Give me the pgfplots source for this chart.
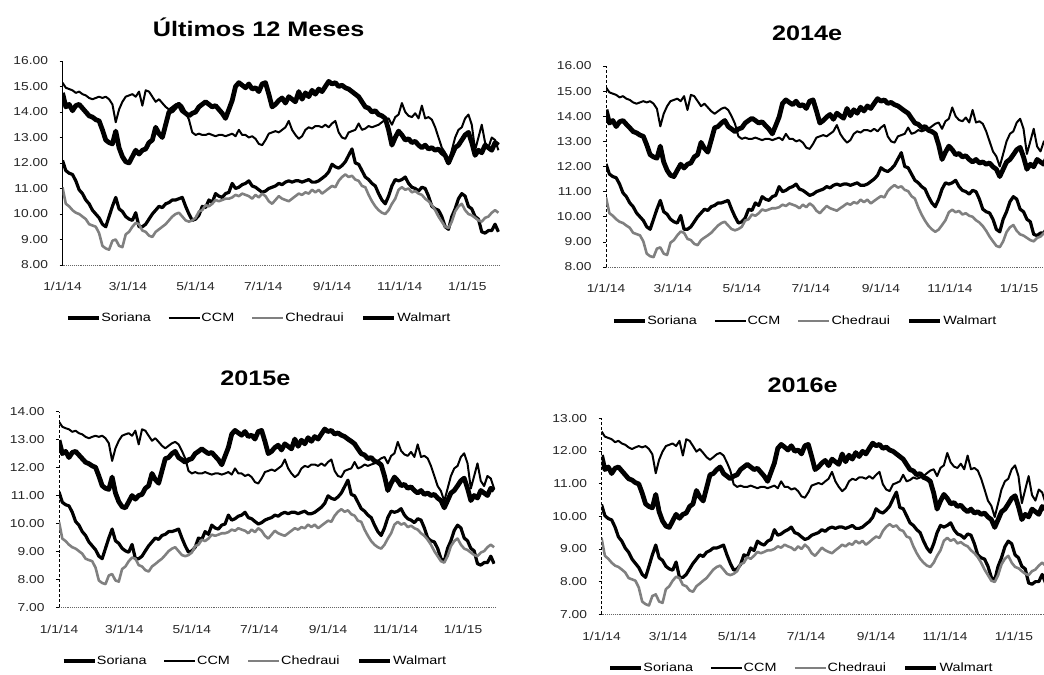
\documentclass[border=0pt]{standalone}
\usepackage{pgfplots}
\pgfplotsset{compat=1.18}
\usepackage{pgfplotstable}
\usepackage{fontspec}
\setmainfont{Liberation Sans}[FakeStretch=1.2]
\pgfkeys{/pgf/number format/assume math mode=true}

% Ultimos 12 meses
\pgfplotstableread{
d S C H W
0 12.10 15.15 11.05 14.75
3 11.70 14.95 10.40 14.20
6 11.60 14.90 10.30 14.30
9 11.55 14.85 10.15 14.05
12 11.30 14.75 10.05 14.25
15 10.95 14.80 10.00 14.30
18 10.80 14.70 9.90 14.15
21 10.55 14.65 9.80 14.00
24 10.40 14.55 9.60 13.85
27 10.15 14.50 9.55 13.80
30 10.00 14.55 9.50 13.70
33 9.85 14.60 9.25 13.65
36 9.60 14.55 8.75 13.30
39 9.50 14.60 8.65 12.90
42 9.90 14.50 8.60 12.80
45 10.30 14.30 8.95 12.75
48 10.65 13.60 9.00 13.25
51 10.20 14.10 8.75 12.60
54 10.10 14.40 8.70 12.25
57 9.90 14.60 9.20 12.05
60 9.80 14.65 9.30 12.00
63 9.75 14.70 9.50 12.25
66 10.05 14.60 9.65 12.50
69 9.50 14.80 9.60 12.35
72 9.50 14.25 9.35 12.50
75 9.60 14.85 9.30 12.55
78 9.80 14.80 9.15 12.80
81 10.00 14.60 9.10 12.90
84 10.15 14.40 9.30 13.40
87 10.30 14.50 9.40 13.15
90 10.25 14.35 9.50 13.00
93 10.40 14.20 9.60 13.50
96 10.45 14.10 9.75 14.00
99 10.55 14.20 9.90 14.05
102 10.55 14.30 10.00 14.20
105 10.60 14.35 10.05 14.30
108 10.65 14.25 9.90 14.05
111 10.30 14.00 9.75 13.95
114 10.00 13.70 9.70 13.85
117 9.75 13.20 9.75 13.95
120 9.80 13.10 9.85 14.00
123 9.95 13.15 10.10 14.20
126 10.30 13.10 10.15 14.30
129 10.25 13.10 10.35 14.40
132 10.55 13.15 10.30 14.30
135 10.45 13.10 10.40 14.20
138 10.80 13.05 10.55 14.25
141 10.70 13.10 10.50 14.10
144 10.65 13.10 10.55 13.95
147 10.80 13.05 10.60 13.75
150 10.85 13.10 10.60 14.10
153 11.20 13.15 10.65 14.45
156 11.00 13.05 10.75 15.00
159 11.05 13.30 10.70 15.15
162 11.15 13.10 10.80 15.05
165 11.20 13.10 10.75 14.95
168 11.30 13.00 10.70 15.10
171 11.10 13.05 10.60 14.90
174 11.05 12.95 10.75 14.95
177 10.95 12.75 10.65 14.80
180 10.85 12.70 10.80 15.10
183 10.90 12.90 10.70 15.15
186 11.00 13.15 10.50 14.70
189 11.05 13.20 10.40 14.20
192 11.10 13.25 10.55 14.30
195 11.20 13.20 10.70 14.45
198 11.15 13.30 10.60 14.55
201 11.25 13.40 10.55 14.35
204 11.30 13.65 10.50 14.60
207 11.25 13.30 10.60 14.50
210 11.30 13.10 10.70 14.40
213 11.30 12.95 10.80 14.80
216 11.25 13.05 10.75 14.50
219 11.30 13.30 10.85 14.75
222 11.35 13.40 10.80 14.60
225 11.25 13.35 10.95 14.85
228 11.25 13.45 10.85 14.70
231 11.30 13.45 10.95 14.90
234 11.40 13.40 10.80 14.80
237 11.50 13.50 10.90 15.00
240 11.65 13.40 11.00 15.20
243 11.95 13.55 11.10 15.10
246 11.85 13.65 11.05 15.15
249 11.80 13.20 11.30 15.00
252 11.90 13.00 11.45 15.05
255 12.05 12.95 11.55 14.95
258 12.30 13.20 11.45 14.90
261 12.55 13.25 11.50 14.80
264 12.00 13.30 11.35 14.70
267 11.95 13.55 11.30 14.60
270 11.70 13.30 11.10 14.40
273 11.45 13.35 11.05 14.20
276 11.35 13.45 10.75 14.15
279 11.20 13.40 10.50 14.00
282 11.10 13.45 10.30 14.05
285 10.80 13.50 10.15 13.90
288 10.55 13.60 10.05 13.85
291 10.40 13.70 10.00 13.75
294 10.70 13.75 10.15 13.30
297 11.10 13.50 10.40 12.70
300 11.35 13.80 10.60 13.00
303 11.30 13.90 10.95 13.25
306 11.35 14.35 11.05 13.10
309 11.45 14.00 10.95 12.90
312 11.20 13.85 11.00 12.95
315 11.05 13.80 10.85 12.80
318 11.00 13.95 10.90 12.85
321 10.90 13.75 10.80 12.70
324 11.05 14.25 10.75 12.60
327 11.00 13.75 10.60 12.70
330 10.70 13.80 10.50 12.55
333 10.30 13.70 10.35 12.60
336 10.20 13.40 10.15 12.50
339 10.15 13.00 9.90 12.55
342 9.90 12.60 9.70 12.40
345 9.50 12.40 9.50 12.30
348 9.40 12.00 9.45 12.00
351 9.90 12.50 9.70 12.30
354 10.20 13.00 10.10 12.60
357 10.60 13.30 10.30 12.70
360 10.80 13.40 10.40 12.90
363 10.70 13.75 10.15 13.10
366 10.30 13.90 10.00 13.20
369 10.20 13.50 9.95 12.80
372 9.90 12.50 9.85 12.30
375 9.80 13.00 9.75 12.50
378 9.30 13.50 9.70 12.40
381 9.25 12.80 9.85 12.70
384 9.35 12.60 9.90 12.60
387 9.35 13.00 10.05 12.50
390 9.60 12.90 10.15 12.80
393 9.30 12.50 10.05 12.70
}\tA

% 2014e
\pgfplotstableread{
d S C H W
0 12.10 15.15 10.77 14.26
3 11.70 14.95 10.14 13.73
6 11.60 14.90 10.04 13.83
9 11.55 14.85 9.90 13.59
12 11.30 14.75 9.80 13.78
15 10.95 14.80 9.75 13.83
18 10.80 14.70 9.65 13.68
21 10.55 14.65 9.56 13.54
24 10.40 14.55 9.36 13.39
27 10.15 14.50 9.31 13.34
30 10.00 14.55 9.26 13.25
33 9.85 14.60 9.02 13.20
36 9.60 14.55 8.53 12.86
39 9.50 14.60 8.43 12.47
42 9.90 14.50 8.39 12.38
45 10.30 14.30 8.73 12.33
48 10.65 13.60 8.78 12.81
51 10.20 14.10 8.53 12.18
54 10.10 14.40 8.48 11.85
57 9.90 14.60 8.97 11.65
60 9.80 14.65 9.07 11.60
63 9.75 14.70 9.26 11.85
66 10.05 14.60 9.41 12.09
69 9.50 14.80 9.36 11.94
72 9.50 14.25 9.12 12.09
75 9.60 14.85 9.07 12.14
78 9.80 14.80 8.92 12.38
81 10.00 14.60 8.87 12.47
84 10.15 14.40 9.07 12.96
87 10.30 14.50 9.17 12.72
90 10.25 14.35 9.26 12.57
93 10.40 14.20 9.36 13.05
96 10.45 14.10 9.51 13.54
99 10.55 14.20 9.65 13.59
102 10.55 14.30 9.75 13.73
105 10.60 14.35 9.80 13.83
108 10.65 14.25 9.65 13.59
111 10.30 14.00 9.51 13.49
114 10.00 13.70 9.46 13.39
117 9.75 13.20 9.51 13.49
120 9.80 13.10 9.60 13.54
123 9.95 13.15 9.85 13.73
126 10.30 13.10 9.90 13.83
129 10.25 13.10 10.09 13.92
132 10.55 13.15 10.04 13.83
135 10.45 13.10 10.14 13.73
138 10.80 13.05 10.29 13.78
141 10.70 13.10 10.24 13.63
144 10.65 13.10 10.29 13.49
147 10.80 13.05 10.34 13.30
150 10.85 13.10 10.34 13.63
153 11.20 13.15 10.38 13.97
156 11.00 13.05 10.48 14.51
159 11.05 13.30 10.43 14.65
162 11.15 13.10 10.53 14.55
165 11.20 13.10 10.48 14.46
168 11.30 13.00 10.43 14.60
171 11.10 13.05 10.34 14.41
174 11.05 12.95 10.48 14.46
177 10.95 12.75 10.38 14.31
180 10.85 12.70 10.53 14.60
183 10.90 12.90 10.43 14.65
186 11.00 13.15 10.24 14.21
189 11.05 13.20 10.14 13.73
192 11.10 13.25 10.29 13.83
195 11.20 13.20 10.43 13.97
198 11.15 13.30 10.34 14.07
201 11.25 13.40 10.29 13.88
204 11.30 13.65 10.24 14.12
207 11.25 13.30 10.34 14.02
210 11.30 13.10 10.43 13.92
213 11.30 12.95 10.53 14.31
216 11.25 13.05 10.48 14.02
219 11.30 13.30 10.58 14.26
222 11.35 13.40 10.53 14.12
225 11.25 13.35 10.68 14.36
228 11.25 13.45 10.58 14.21
231 11.30 13.45 10.68 14.41
234 11.40 13.40 10.53 14.31
237 11.50 13.50 10.63 14.51
240 11.65 13.40 10.73 14.70
243 11.95 13.55 10.82 14.60
246 11.85 13.65 10.77 14.65
249 11.80 13.20 11.02 14.51
252 11.90 13.00 11.16 14.55
255 12.05 12.95 11.26 14.46
258 12.30 13.20 11.16 14.41
261 12.55 13.25 11.21 14.31
264 12.00 13.30 11.07 14.21
267 11.95 13.55 11.02 14.12
270 11.70 13.30 10.82 13.92
273 11.45 13.35 10.72 13.73
276 11.35 13.45 10.37 13.68
279 11.20 13.40 10.08 13.54
282 11.10 13.45 9.84 13.59
285 10.80 13.50 9.64 13.44
288 10.55 13.60 9.50 13.39
291 10.40 13.70 9.40 13.30
294 10.70 13.75 9.49 12.86
297 11.10 13.50 9.67 12.28
300 11.35 13.80 9.86 12.57
303 11.30 13.90 10.18 12.81
306 11.35 14.35 10.28 12.67
309 11.45 14.00 10.18 12.47
312 11.20 13.85 10.23 12.52
315 11.05 13.80 10.09 12.38
318 11.00 13.95 10.14 12.43
321 10.90 13.75 10.04 12.28
324 11.05 14.25 10.00 12.18
327 11.00 13.75 9.86 12.28
330 10.70 13.80 9.77 12.14
333 10.30 13.70 9.63 12.18
336 10.20 13.40 9.44 12.09
339 10.15 13.00 9.21 12.14
342 9.90 12.60 9.02 11.99
345 9.50 12.40 8.84 11.89
348 9.40 12.00 8.79 11.60
351 9.90 12.50 9.02 11.89
354 10.20 13.00 9.39 12.18
357 10.60 13.30 9.58 12.28
360 10.80 13.40 9.67 12.47
363 10.70 13.75 9.44 12.67
366 10.30 13.90 9.30 12.76
369 10.20 13.50 9.25 12.38
372 9.90 12.50 9.16 11.89
375 9.80 13.00 9.07 12.09
378 9.30 13.50 9.02 11.99
381 9.25 12.80 9.16 12.28
384 9.35 12.60 9.21 12.18
387 9.35 13.00 9.35 12.09
390 9.60 12.90 9.44 12.38
393 9.30 12.50 9.35 12.28
}\tB

% 2015e
\pgfplotstableread{
d S C H W
0 11.13 13.64 10.06 12.98
3 10.76 13.46 9.46 12.50
6 10.67 13.41 9.37 12.58
9 10.63 13.37 9.24 12.36
12 10.40 13.28 9.15 12.54
15 10.07 13.32 9.10 12.58
18 9.94 13.23 9.01 12.45
21 9.71 13.19 8.92 12.32
24 9.57 13.10 8.74 12.19
27 9.34 13.05 8.69 12.14
30 9.20 13.10 8.65 12.06
33 9.06 13.14 8.42 12.01
36 8.83 13.10 7.96 11.70
39 8.74 13.14 7.87 11.35
42 9.11 13.05 7.83 11.26
45 9.48 12.87 8.14 11.22
48 9.80 12.24 8.19 11.66
51 9.38 12.69 7.96 11.09
54 9.29 12.96 7.92 10.78
57 9.11 13.14 8.37 10.60
60 9.02 13.19 8.46 10.56
63 8.97 13.23 8.65 10.78
66 9.25 13.14 8.78 11.00
69 8.74 13.32 8.74 10.87
72 8.74 12.83 8.51 11.00
75 8.83 13.37 8.46 11.04
78 9.02 13.32 8.33 11.26
81 9.20 13.14 8.28 11.35
84 9.34 12.96 8.46 11.79
87 9.48 13.05 8.55 11.57
90 9.43 12.92 8.65 11.44
93 9.57 12.78 8.74 11.88
96 9.61 12.69 8.87 12.32
99 9.71 12.78 9.01 12.36
102 9.71 12.87 9.10 12.50
105 9.75 12.92 9.15 12.58
108 9.80 12.83 9.01 12.36
111 9.48 12.60 8.87 12.28
114 9.20 12.33 8.83 12.19
117 8.97 11.88 8.87 12.28
120 9.02 11.79 8.96 12.32
123 9.15 11.84 9.19 12.50
126 9.48 11.79 9.24 12.58
129 9.43 11.79 9.42 12.67
132 9.71 11.84 9.37 12.58
135 9.61 11.79 9.46 12.50
138 9.94 11.75 9.60 12.54
141 9.84 11.79 9.56 12.41
144 9.80 11.79 9.60 12.28
147 9.94 11.75 9.65 12.10
150 9.98 11.79 9.65 12.41
153 10.30 11.84 9.69 12.72
156 10.12 11.75 9.78 13.20
159 10.17 11.97 9.74 13.33
162 10.26 11.79 9.83 13.24
165 10.30 11.79 9.78 13.16
168 10.40 11.70 9.74 13.29
171 10.21 11.75 9.65 13.11
174 10.17 11.66 9.78 13.16
177 10.07 11.48 9.69 13.02
180 9.98 11.43 9.83 13.29
183 10.03 11.61 9.74 13.33
186 10.12 11.84 9.56 12.94
189 10.17 11.88 9.46 12.50
192 10.21 11.93 9.60 12.58
195 10.30 11.88 9.74 12.72
198 10.26 11.97 9.65 12.80
201 10.35 12.06 9.60 12.63
204 10.40 12.29 9.56 12.85
207 10.35 11.97 9.65 12.76
210 10.40 11.79 9.74 12.67
213 10.40 11.66 9.83 13.02
216 10.35 11.75 9.78 12.76
219 10.40 11.97 9.87 12.98
222 10.44 12.06 9.83 12.85
225 10.35 12.02 9.96 13.07
228 10.35 12.11 9.87 12.94
231 10.40 12.11 9.96 13.11
234 10.49 12.06 9.83 13.02
237 10.58 12.15 9.92 13.20
240 10.72 12.06 10.01 13.38
243 10.99 12.20 10.10 13.29
246 10.90 12.29 10.06 13.33
249 10.86 11.88 10.28 13.20
252 10.95 11.70 10.42 13.24
255 11.09 11.66 10.51 13.16
258 11.32 11.88 10.42 13.11
261 11.55 11.93 10.47 13.02
264 11.04 11.97 10.33 12.94
267 10.99 12.20 10.28 12.85
270 10.76 11.97 10.10 12.67
273 10.53 12.02 10.06 12.50
276 10.44 12.11 9.78 12.45
279 10.30 12.06 9.56 12.32
282 10.21 12.11 9.37 12.36
285 9.94 12.15 9.24 12.23
288 9.71 12.24 9.15 12.19
291 9.57 12.33 9.10 12.10
294 9.84 12.38 9.24 11.70
297 10.21 12.15 9.46 11.18
300 10.44 12.42 9.65 11.44
303 10.40 12.51 9.96 11.66
306 10.44 12.92 10.06 11.53
309 10.53 12.60 9.96 11.35
312 10.30 12.47 10.01 11.40
315 10.17 12.42 9.87 11.26
318 10.12 12.56 9.92 11.31
321 10.03 12.38 9.83 11.18
324 10.17 12.83 9.78 11.09
327 10.12 12.38 9.65 11.18
330 9.84 12.42 9.56 11.04
333 9.48 12.33 9.42 11.09
336 9.38 12.06 9.24 11.00
339 9.34 11.70 9.01 11.04
342 9.11 11.34 8.83 10.91
345 8.74 11.16 8.65 10.82
348 8.65 10.80 8.60 10.56
351 9.11 11.25 8.83 10.82
354 9.38 11.70 9.19 11.09
357 9.75 11.97 9.37 11.18
360 9.94 12.06 9.46 11.35
363 9.84 12.38 9.24 11.53
366 9.48 12.51 9.10 11.62
369 9.38 12.15 9.05 11.26
372 9.11 11.25 8.96 10.82
375 9.02 11.70 8.87 11.00
378 8.56 12.15 8.83 10.91
381 8.51 11.52 8.96 11.18
384 8.60 11.34 9.01 11.09
387 8.60 11.70 9.15 11.00
390 8.83 11.61 9.24 11.26
393 8.56 11.25 9.15 11.18
}\tC

% 2016e
\pgfplotstableread{
d S C H W
0 10.36 12.60 9.34 11.87
3 10.02 12.44 8.79 11.43
6 9.93 12.40 8.70 11.51
9 9.89 12.36 8.58 11.31
12 9.67 12.27 8.49 11.47
15 9.37 12.31 8.45 11.51
18 9.24 12.23 8.37 11.39
21 9.03 12.19 8.28 11.27
24 8.90 12.11 8.11 11.15
27 8.69 12.06 8.07 11.11
30 8.56 12.11 8.03 11.03
33 8.43 12.15 7.82 10.99
36 8.22 12.11 7.39 10.71
39 8.13 12.15 7.31 10.38
42 8.47 12.06 7.27 10.30
45 8.82 11.90 7.56 10.26
48 9.12 11.32 7.61 10.67
51 8.73 11.73 7.39 10.14
54 8.65 11.98 7.35 9.86
57 8.47 12.15 7.77 9.70
60 8.39 12.19 7.86 9.66
63 8.35 12.23 8.03 9.86
66 8.60 12.15 8.15 10.06
69 8.13 12.31 8.11 9.94
72 8.13 11.86 7.90 10.06
75 8.22 12.36 7.86 10.10
78 8.39 12.31 7.73 10.30
81 8.56 12.15 7.69 10.38
84 8.69 11.98 7.86 10.79
87 8.82 12.06 7.94 10.59
90 8.77 11.94 8.03 10.47
93 8.90 11.81 8.11 10.87
96 8.95 11.73 8.24 11.27
99 9.03 11.81 8.37 11.31
102 9.03 11.90 8.45 11.43
105 9.07 11.94 8.49 11.51
108 9.12 11.86 8.37 11.31
111 8.82 11.65 8.24 11.23
114 8.56 11.40 8.20 11.15
117 8.35 10.98 8.24 11.23
120 8.39 10.90 8.32 11.27
123 8.52 10.94 8.53 11.43
126 8.82 10.90 8.58 11.51
129 8.77 10.90 8.75 11.59
132 9.03 10.94 8.70 11.51
135 8.95 10.90 8.79 11.43
138 9.24 10.86 8.91 11.47
141 9.16 10.90 8.87 11.35
144 9.12 10.90 8.91 11.23
147 9.24 10.86 8.96 11.07
150 9.29 10.90 8.96 11.35
153 9.59 10.94 9.00 11.63
156 9.42 10.86 9.08 12.08
159 9.46 11.07 9.04 12.20
162 9.54 10.90 9.13 12.12
165 9.59 10.90 9.08 12.03
168 9.67 10.82 9.04 12.16
171 9.50 10.86 8.96 11.99
174 9.46 10.77 9.08 12.03
177 9.37 10.61 9.00 11.91
180 9.29 10.57 9.13 12.16
183 9.33 10.73 9.04 12.20
186 9.42 10.94 8.87 11.83
189 9.46 10.98 8.79 11.43
192 9.50 11.02 8.91 11.51
195 9.59 10.98 9.04 11.63
198 9.54 11.07 8.96 11.71
201 9.63 11.15 8.91 11.55
204 9.67 11.36 8.87 11.75
207 9.63 11.07 8.96 11.67
210 9.67 10.90 9.04 11.59
213 9.67 10.77 9.13 11.91
216 9.63 10.86 9.08 11.67
219 9.67 11.07 9.17 11.87
222 9.72 11.15 9.13 11.75
225 9.63 11.11 9.25 11.95
228 9.63 11.19 9.17 11.83
231 9.67 11.19 9.25 11.99
234 9.76 11.15 9.13 11.91
237 9.84 11.23 9.21 12.08
240 9.97 11.15 9.30 12.24
243 10.23 11.27 9.38 12.16
246 10.14 11.36 9.34 12.20
249 10.10 10.98 9.55 12.08
252 10.19 10.82 9.68 12.12
255 10.31 10.77 9.76 12.03
258 10.53 10.98 9.68 11.99
261 10.74 11.02 9.72 11.91
264 10.27 11.07 9.59 11.83
267 10.23 11.27 9.55 11.75
270 10.02 11.07 9.38 11.59
273 9.80 11.11 9.34 11.43
276 9.72 11.19 9.08 11.39
279 9.59 11.15 8.87 11.27
282 9.50 11.19 8.70 11.31
285 9.24 11.23 8.58 11.19
288 9.03 11.32 8.49 11.15
291 8.90 11.40 8.45 11.07
294 9.16 11.44 8.58 10.71
297 9.50 11.23 8.79 10.22
300 9.72 11.48 8.96 10.47
303 9.67 11.56 9.25 10.67
306 9.72 11.94 9.34 10.55
309 9.80 11.65 9.25 10.38
312 9.59 11.52 9.30 10.42
315 9.46 11.48 9.17 10.30
318 9.42 11.61 9.21 10.34
321 9.33 11.44 9.13 10.22
324 9.46 11.86 9.08 10.14
327 9.42 11.44 8.96 10.22
330 9.16 11.48 8.87 10.10
333 8.82 11.40 8.75 10.14
336 8.73 11.15 8.58 10.06
339 8.69 10.82 8.37 10.10
342 8.47 10.48 8.20 9.98
345 8.13 10.32 8.03 9.90
348 8.05 9.98 7.99 9.66
351 8.47 10.40 8.20 9.90
354 8.73 10.82 8.53 10.14
357 9.07 11.07 8.70 10.22
360 9.24 11.15 8.79 10.38
363 9.16 11.44 8.58 10.55
366 8.82 11.56 8.45 10.63
369 8.73 11.23 8.41 10.30
372 8.47 10.40 8.32 9.90
375 8.39 10.82 8.24 10.06
378 7.96 11.23 8.20 9.98
381 7.92 10.65 8.32 10.22
384 8.00 10.48 8.37 10.14
387 8.00 10.82 8.49 10.06
390 8.22 10.73 8.58 10.30
393 7.96 10.40 8.49 10.22
}\tD

\tikzset{
  soriana/.style={black, line width=3.2bp, line join=round},
  ccm/.style={black, line width=2.0bp, line join=round},
  chedraui/.style={black!50, line width=2.6bp, line join=round},
  walmart/.style={black, line width=4.8bp, line join=round},
}

\pgfplotsset{
  panel/.style={
    scale only axis,
    anchor=south west,
    xmin=0, xmax=394,
    axis x line=bottom, axis y line=left,
    axis line style={-},
    x axis line style={black!60, densely dotted, line width=0.9bp},
    y axis line style={black, line width=0.6bp},
    xtick={0,59,120,181,243,304,365},
    xticklabels={1/1/14,3/1/14,5/1/14,7/1/14,9/1/14,11/1/14,1/1/15},
    x tick style={draw=none},
    y tick style={black, line width=0.6bp},
    tick align=outside,
    major tick length=3bp,
    ytick distance=1,
    tick label style={font=\fontsize{11.5bp}{13bp}\selectfont, text=black!85},
    xticklabel style={yshift=-11bp},
    yticklabel style={xshift=-8bp, /pgf/number format/fixed, /pgf/number format/fixed zerofill, /pgf/number format/precision=2},
    legend columns=4,
    legend cell align=left,
    legend style={draw=none, fill=none, anchor=center,
      font=\fontsize{12bp}{13bp}\selectfont,
      nodes={inner sep=0.8bp},
      /tikz/every even column/.append style={column sep=16bp}},
    legend image code/.code={\draw[##1] (0bp,0bp) -- (31bp,0bp);},
    title style={font=\fontsize{21bp}{24bp}\selectfont\bfseries, anchor=center},
    clip=true,
  }
}

\begin{document}
\begin{tikzpicture}
% Panel 1
\begin{axis}[panel, at={(62.5bp,410bp)}, width=437bp, height=204bp,
  ymin=8, ymax=16,
  title={Últimos 12 Meses}, title style={at={(0.449,1.138)}},
  legend style={at={(0.449,-0.26)}}]
\addplot[soriana] table[x=d,y=S]{\tA}; \addlegendentry{Soriana}
\addplot[ccm] table[x=d,y=C]{\tA}; \addlegendentry{CCM}
\addplot[chedraui] table[x=d,y=H]{\tA}; \addlegendentry{Chedraui}
\addplot[walmart] table[x=d,y=W]{\tA}; \addlegendentry{Walmart}
\end{axis}
% Panel 2
\begin{axis}[panel, at={(606bp,408bp)}, width=445.8bp, height=201bp,
  ymin=8, ymax=16,
  y axis line style={black, densely dashed, line width=0.6bp},
  title={2014e}, title style={at={(0.451,1.134)}},
  legend style={at={(0.446,-0.269)}}]
\addplot[soriana] table[x=d,y=S]{\tB}; \addlegendentry{Soriana}
\addplot[ccm] table[x=d,y=C]{\tB}; \addlegendentry{CCM}
\addplot[chedraui] table[x=d,y=H]{\tB}; \addlegendentry{Chedraui}
\addplot[walmart] table[x=d,y=W]{\tB}; \addlegendentry{Walmart}
\end{axis}
% Panel 3
\begin{axis}[panel, at={(59bp,67.7bp)}, width=436.2bp, height=195.6bp,
  ymin=7, ymax=14,
  y axis line style={black, densely dashed, line width=0.6bp},
  title={2015e}, title style={at={(0.45,1.141)}},
  legend style={at={(0.448,-0.275)}}]
\addplot[soriana] table[x=d,y=S]{\tC}; \addlegendentry{Soriana}
\addplot[ccm] table[x=d,y=C]{\tC}; \addlegendentry{CCM}
\addplot[chedraui] table[x=d,y=H]{\tC}; \addlegendentry{Chedraui}
\addplot[walmart] table[x=d,y=W]{\tC}; \addlegendentry{Walmart}
\end{axis}
% Panel 4
\begin{axis}[panel, at={(601.5bp,60.7bp)}, width=445.2bp, height=196bp,
  ymin=7, ymax=13,
  y axis line style={black, densely dashed, line width=0.6bp},
  title={2016e}, title style={at={(0.452,1.139)}},
  legend style={at={(0.448,-0.274)}}]
\addplot[soriana] table[x=d,y=S]{\tD}; \addlegendentry{Soriana}
\addplot[ccm] table[x=d,y=C]{\tD}; \addlegendentry{CCM}
\addplot[chedraui] table[x=d,y=H]{\tD}; \addlegendentry{Chedraui}
\addplot[walmart] table[x=d,y=W]{\tD}; \addlegendentry{Walmart}
\end{axis}
\pgfresetboundingbox
\path[use as bounding box] (0bp,0bp) rectangle (1044bp,675bp);
\end{tikzpicture}
\end{document}
